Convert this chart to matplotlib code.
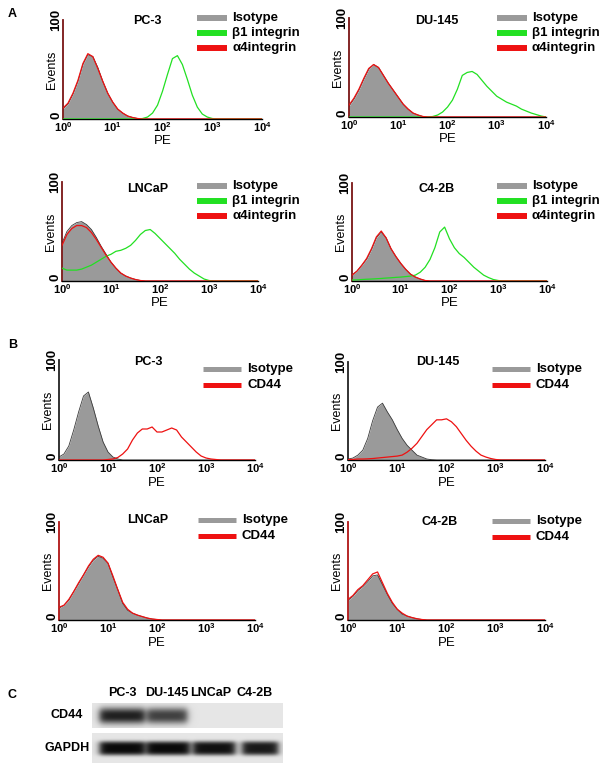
"""Flow cytometry histograms (integrins / CD44) plus CD44 western blot."""
import numpy as np
import matplotlib
matplotlib.use("Agg")
import matplotlib.pyplot as plt
from matplotlib.lines import Line2D

plt.rcParams["font.family"] = ["Liberation Sans", "DejaVu Sans"]
plt.rcParams["font.weight"] = "bold"
plt.rcParams["mathtext.fontset"] = "custom"
plt.rcParams["mathtext.rm"] = "Liberation Sans:bold"
plt.rcParams["mathtext.it"] = "Liberation Sans:bold"
plt.rcParams["mathtext.bf"] = "Liberation Sans:bold"

W, H = 603, 773

# ---------------------------------------------------------------- data
# PE channel, 0.1-decade bins from 10^0 to 10^4 (log10 values)
pe_log = np.round(np.arange(0, 41) / 10, 1)
pe_ticks = [1, 10, 100, 1000, 10000]
pe_tick_labels = [r"$10^{0}$", r"$10^{1}$", r"$10^{2}$", r"$10^{3}$", r"$10^{4}$"]
event_ticks = [0, 100]
event_tick_labels = ["0", "100"]

# panel A: isotype / beta1 integrin / alpha4 integrin (events, % of max)
a_pc3_iso = [10, 15, 25, 38, 55, 65, 63, 52, 38, 26, 17, 10, 6, 3, 1.5, 0.5]
a_pc3_b1 = [0, 0, 0, 0, 0, 0, 0, 0, 0, 0, 0, 0, 0, 0, 0, 0,
            0.5, 2, 6, 14, 28, 45, 61, 64, 55, 40, 24, 12, 5, 2, 0.5]
a_pc3_a4 = [11, 16, 26, 39, 56, 66, 63, 51, 38, 26, 17, 10, 6, 3, 1.5, 0.5]

a_du145_iso = [11, 18, 27, 38, 48, 53, 50, 42, 34, 27, 20, 13, 8, 4, 2, 0.5]
a_du145_b1 = [0, 0, 0, 0, 0, 0, 0, 0, 0, 0, 0, 0, 0, 0, 0, 0, 0,
              0.5, 2, 5, 10, 17, 28, 42, 45, 46, 43, 37, 31, 26, 21, 18,
              15, 13, 11, 8, 6, 4, 2.5, 1, 0]
a_du145_a4 = [12, 19, 28, 39, 49, 53, 50, 42, 34, 27, 20, 13, 8, 4, 2, 0.5]

a_lncap_iso = [38, 50, 56, 59, 60, 57, 52, 44, 35, 27, 19, 13, 8, 5, 3, 1.5, 0.5]
a_lncap_b1 = [13, 11, 11, 11, 12, 14, 16, 19, 22, 25, 27, 30, 31, 33, 36, 41,
              47, 51, 52, 48, 43, 38, 33, 28, 22, 17, 12, 8, 5, 2, 0.5]
a_lncap_a4 = [36, 47, 53, 56, 56, 54, 49, 42, 34, 26, 19, 13, 8, 5, 3, 1.5, 0.5]

a_c42b_iso = [6, 10, 16, 22, 32, 44, 50, 44, 33, 25, 18, 12, 7, 4, 2, 0.5]
a_c42b_b1 = [1, 1.2, 1.5, 1.8, 2, 2.3, 2.6, 3, 3.3, 3.7, 4, 4.5, 5, 6, 9, 14,
             22, 34, 50, 55, 43, 34, 28, 24, 19, 14, 10, 6, 3.5, 1.5, 0.5]
a_c42b_a4 = [6, 10, 16, 23, 33, 45, 51, 44, 33, 25, 18, 12, 7, 4, 2, 0.5]

# panel B: isotype / CD44
b_pc3_iso = [3, 6, 14, 30, 48, 64, 68, 52, 34, 18, 8, 3, 1]
b_pc3_cd44 = [0, 0, 0, 0, 0, 0, 0, 0, 0, 0, 0.5, 1, 2.5, 6, 11, 20, 27, 31,
              31, 33, 28, 28, 30, 32, 30, 23, 18, 13, 8, 4, 2, 1, 0.5]

b_du145_iso = [1, 2, 5, 10, 22, 40, 54, 58, 49, 41, 31, 22, 15, 10, 5, 3, 1, 0.3]
b_du145_cd44 = [0.5, 0.5, 1, 1, 1.2, 1.5, 2, 2.5, 3, 3.5, 4, 5, 8, 12, 17, 24,
                31, 36, 41, 41, 42, 39, 34, 27, 20, 14, 9, 5, 3, 1.5, 0.5]

b_lncap_iso = [12, 15, 20, 29, 37, 46, 54, 61, 65, 63, 58, 44, 31, 17, 10, 7,
               5, 3.4, 2, 1, 0.5]
b_lncap_cd44 = [13, 15, 21, 29, 38, 46, 55, 62, 66, 64, 58, 45, 31, 18, 11, 7,
                5, 3.5, 2, 1, 0.5]

b_c42b_iso = [20, 24, 30, 34, 39, 45, 46, 36, 26, 17, 11, 6, 4, 2.4, 1.2, 0.5]
b_c42b_cd44 = [21, 25, 31, 35, 41, 47, 49, 38, 27, 18, 11, 7, 4, 2.5, 1.3, 0.5]

# panel C: western blot band intensity (0 = none, 1 = saturated)
blot_lanes = ["PC-3", "DU-145", "LNCaP", "C4-2B"]
cd44_band = [0.9, 0.75, 0.0, 0.0]
gapdh_band = [1.0, 1.0, 0.97, 0.93]

# ---------------------------------------------------------------- styles
ISO = "#9a9a9a"
GREEN = "#22e022"
RED = "#ee1111"
DARK_RED = "#7a1515"


def px_rect(l, t, r, b):
    return [l / W, 1 - b / H, (r - l) / W, (b - t) / H]


def fx(x):
    return x / W


def fy(y):
    return 1 - y / H


def pad(vals):
    return np.array(list(vals) + [0] * (len(pe_log) - len(vals)), float)


fig = plt.figure(figsize=(W / 100, H / 100), dpi=100)


def hist_panel(rect, title, title_xy, key_xy, curves, spine_color,
               key_len=30, key_lw=4.3, key_gap=5, key_dy=15):
    ax = fig.add_axes(px_rect(*rect))
    x = 10 ** pe_log
    for label, vals, kind in curves:
        y = pad(vals)
        if kind == "iso":
            ax.fill_between(x, 0, y, color=ISO, lw=0, zorder=1)
            ax.plot(x, y, color="#3a3a3a", lw=0.6, zorder=2)
        else:
            ax.plot(x, y, color=GREEN if kind == "green" else RED,
                    lw=0.9, zorder=3)

    ax.set_xscale("log")
    ax.set_xlim(1, 1e4)
    ax.set_ylim(0, 100)
    ax.set_xticks(pe_ticks, labels=pe_tick_labels, fontsize=8)
    ax.minorticks_off()
    ax.set_yticks(event_ticks)
    ax.set_yticklabels(event_tick_labels, rotation=90, va="center",
                       ha="right", fontsize=9.5)
    ax.get_yticklabels()[0].set_va("bottom")  # "0" sits just above the axis
    ax.tick_params(axis="both", length=0)
    ax.tick_params(axis="x", pad=1)
    ax.tick_params(axis="y", pad=0.5)
    for s in ("top", "right"):
        ax.spines[s].set_visible(False)
    ax.spines["bottom"].set_linewidth(1.0)
    ax.spines["left"].set_linewidth(1.3)
    ax.spines["left"].set_color(spine_color)
    ax.patch.set_alpha(0)

    h = rect[3] - rect[1]
    ax.set_xlabel("PE", fontsize=9.5)
    ax.xaxis.set_label_coords(0.5, -16.5 / h)
    ax.set_ylabel("Events", fontsize=9)
    ax.yaxis.set_label_coords(-0.026, 0.5)

    fig.text(fx(title_xy[0]), fy(title_xy[1]), title, ha="center",
             va="center", fontsize=9)

    kx, ky = key_xy
    colors = {"iso": ISO, "green": GREEN, "red": RED}
    for i, (label, _, kind) in enumerate(curves):
        yy = fy(ky + i * key_dy)
        fig.add_artist(Line2D([fx(kx), fx(kx + key_len)], [yy, yy],
                              color=colors[kind], lw=key_lw,
                              solid_capstyle="butt"))
        fig.text(fx(kx + key_len + key_gap), yy, label, ha="left",
                 va="center", fontsize=9.5)
    return ax


def a_curves(iso, b1, a4):
    return [("Isotype", iso, "iso"), ("\u03b21 integrin", b1, "green"),
            ("\u03b14integrin", a4, "red")]


def b_curves(iso, cd44):
    return [("Isotype", iso, "iso"), ("CD44", cd44, "red")]


# panel A
hist_panel((63, 20, 262, 119), "PC-3", (147, 21), (197, 18),
           a_curves(a_pc3_iso, a_pc3_b1, a_pc3_a4), DARK_RED)
hist_panel((349, 18, 546, 117), "DU-145", (437, 21), (497, 18),
           a_curves(a_du145_iso, a_du145_b1, a_du145_a4), DARK_RED)
hist_panel((62, 182, 258, 281), "LNCaP", (148, 189), (197, 186),
           a_curves(a_lncap_iso, a_lncap_b1, a_lncap_a4), DARK_RED)
hist_panel((352, 183, 547, 281), "C4-2B", (437, 189), (497, 186),
           a_curves(a_c42b_iso, a_c42b_b1, a_c42b_a4), DARK_RED)

# panel B
bkw = dict(key_len=38, key_lw=3.6, key_gap=6, key_dy=16)
hist_panel((59, 360, 255, 460), "PC-3", (148, 362), (203, 369),
           b_curves(b_pc3_iso, b_pc3_cd44), "#222222", **bkw)
hist_panel((348, 362, 545, 460), "DU-145", (438, 362), (492, 369),
           b_curves(b_du145_iso, b_du145_cd44), "#222222", **bkw)
hist_panel((59, 522, 255, 620), "LNCaP", (148, 520), (198, 520),
           b_curves(b_lncap_iso, b_lncap_cd44), "#b01515", **bkw)
hist_panel((348, 522, 545, 620), "C4-2B", (440, 522), (492, 521),
           b_curves(b_c42b_iso, b_c42b_cd44), "#b01515", **bkw)


# panel C: blot strips
def blot_strip(rect, levels, centers, widths, half_h, sharp):
    ax = fig.add_axes(px_rect(*rect))
    w = rect[2] - rect[0]
    h = rect[3] - rect[1]
    xx = np.arange(w * 2) / 2
    yy = np.arange(h * 2) / 2
    img = np.full((len(yy), len(xx)), 0.9)
    for lvl, cx, bw in zip(levels, centers, widths):
        px = 1 / (1 + np.exp((np.abs(xx - cx) - bw / 2) / 2.0))
        py = np.exp(-np.abs((yy - h / 2) / half_h) ** sharp)
        img -= lvl * 0.86 * np.outer(py, px)
    ax.imshow(img, cmap="gray", vmin=0, vmax=1, aspect="auto",
              interpolation="bilinear", extent=(0, w, h, 0))
    ax.set_axis_off()
    return ax


blot_strip((92, 703, 283, 728), cd44_band, [30, 75, 122, 168],
           [45, 40, 42, 36], 8, 2.5)
blot_strip((92, 733, 283, 763), gapdh_band, [30, 76, 122, 168],
           [45, 43, 42, 36], 7, 4)

for lab, x in zip(blot_lanes, [122, 167, 211, 255]):
    fig.text(fx(x), fy(693), lab, ha="center", va="center", fontsize=9)
fig.text(fx(67), fy(715), "CD44", ha="center", va="center", fontsize=9)
fig.text(fx(67), fy(748), "GAPDH", ha="center", va="center", fontsize=9)

for letter, (x, y) in zip("ABC", [(12, 14), (13, 345), (12, 695)]):
    fig.text(fx(x), fy(y), letter, ha="center", va="center", fontsize=9)

fig.savefig("out.png", dpi=100, facecolor="white")
